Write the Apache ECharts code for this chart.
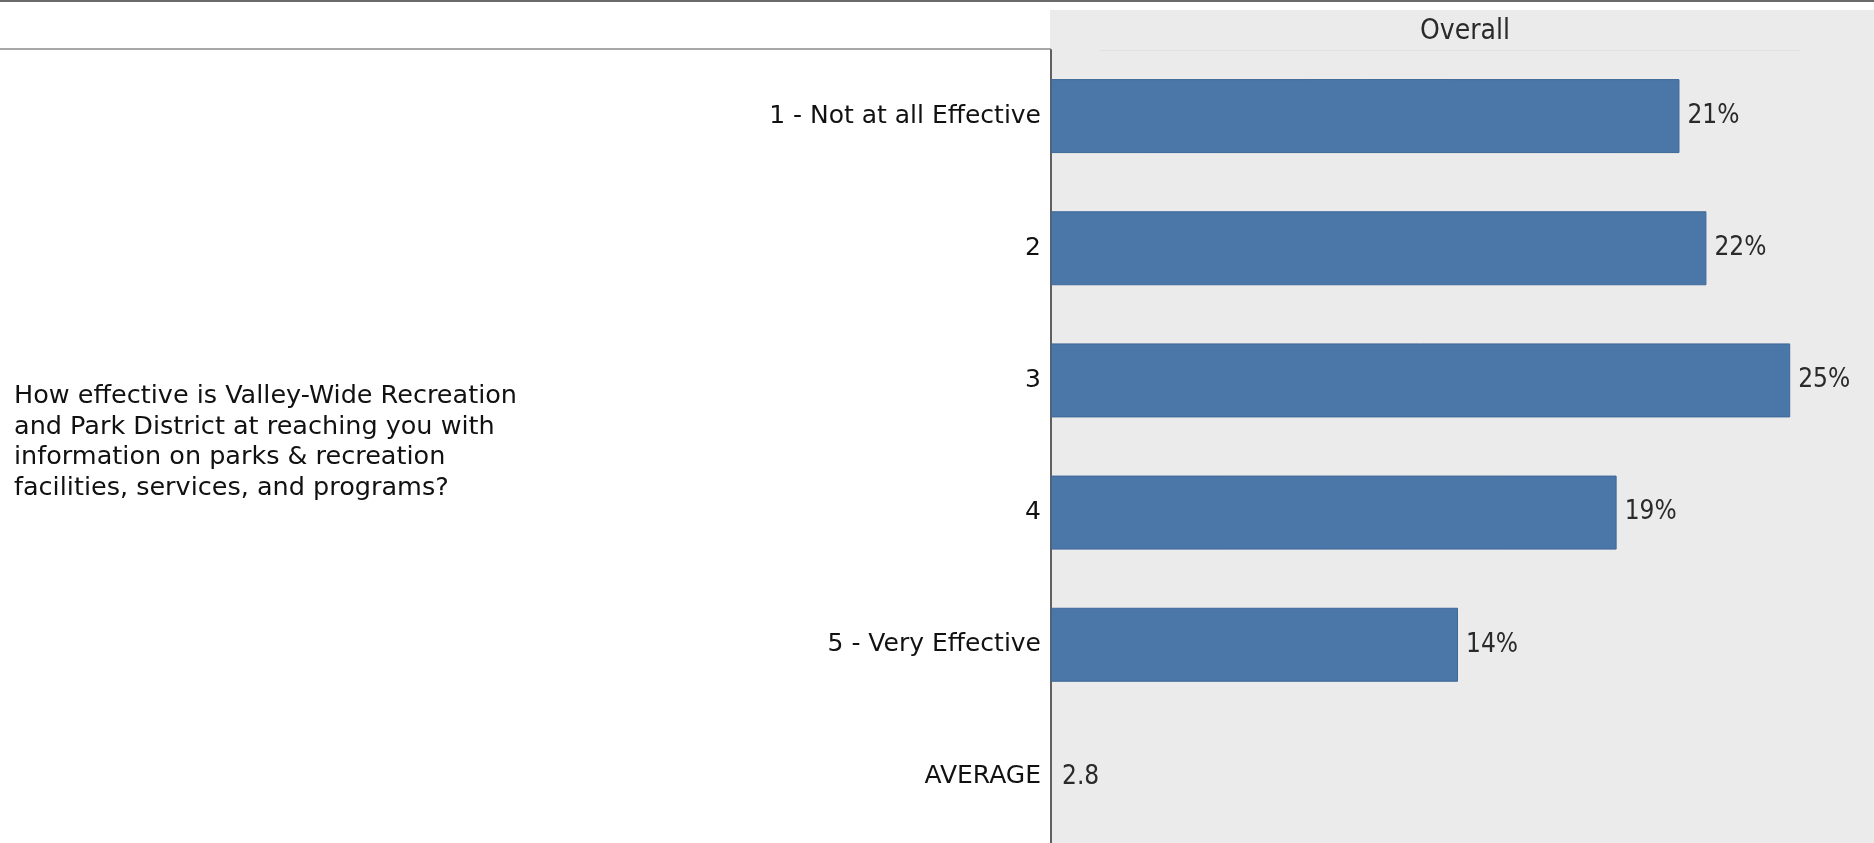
<!DOCTYPE html>
<html>
<head>
<meta charset="utf-8">
<style>
  html, body { margin: 0; padding: 0; background: #ffffff; }
  #chart { width: 1874px; height: 843px; }
</style>
<script src="https://cdn.jsdelivr.net/npm/echarts@6/dist/echarts.min.js"></script>
</head>
<body>
<div id="chart"></div>
<script>
// ---- Data ----
const categories = ['1 - Not at all Effective', '2', '3', '4', '5 - Very Effective', 'AVERAGE'];
const overallPercent = [21.0, 21.9, 24.7, 18.9, 13.6];
const averageScore = 2.8;
const columnTitle = 'Overall';
const questionText = 'How effective is Valley-Wide Recreation\nand Park District at reaching you with\ninformation on parks & recreation\nfacilities, services, and programs?';

const narrowFont = '"Liberation Sans Narrow", "DejaVu Sans Condensed", "Liberation Sans", sans-serif';

const chart = echarts.init(document.getElementById('chart'), null, { renderer: 'canvas' });

const option = {
  backgroundColor: '#ffffff',
  animation: false,
  graphic: [
    // grey panel behind the bars
    { type: 'rect', z: -10, shape: { x: 1050, y: 10, width: 824, height: 833 }, style: { fill: '#ebebeb' } },
    // dark line at very top
    { type: 'rect', z: -5, shape: { x: 0, y: 0, width: 1874, height: 2 }, style: { fill: '#6a6a6a' } },
    // left header rule
    { type: 'rect', z: -5, shape: { x: 0, y: 48, width: 1051, height: 2 }, style: { fill: '#a8a8a8' } },
    // faint rule under column title
    { type: 'rect', z: -5, shape: { x: 1100, y: 50, width: 700, height: 1 }, style: { fill: '#e0e0e0' } },
    {
      type: 'text', z: 5, x: 1465, y: 32,
      style: { text: columnTitle, textAlign: 'center', textVerticalAlign: 'middle',
               font: '28px ' + narrowFont, fill: '#2a2a2a' }
    },
    {
      type: 'text', z: 5, x: 14, y: 381,
      style: { text: questionText, textAlign: 'left', textVerticalAlign: 'top',
               font: '25.5px "DejaVu Sans", sans-serif', lineHeight: 30.7, fill: '#111111' }
    }
  ],
  grid: { left: 1051, right: 0, top: 50, height: 798, containLabel: false },
  xAxis: {
    type: 'value', min: 0, max: 27.5,
    show: false
  },
  yAxis: {
    type: 'category', data: categories, inverse: true,
    axisLine: { show: true, lineStyle: { color: '#606060', width: 2 } },
    axisTick: { show: false },
    splitLine: { show: false },
    axisLabel: {
      margin: 10, color: '#111111',
      fontFamily: '"DejaVu Sans", sans-serif', fontSize: 25
    }
  },
  series: [
    {
      type: 'bar',
      data: overallPercent,
      barWidth: 74,
      itemStyle: { color: '#4a76a8', borderColor: '#3f6898', borderWidth: 1 },
      label: {
        show: true, position: 'right', distance: 8,
        formatter: p => Math.round(p.value) + '%',
        fontFamily: narrowFont, fontSize: 26, color: '#2a2a2a'
      }
    },
    {
      type: 'scatter',
      data: [[0, 'AVERAGE']],
      symbolSize: 0,
      itemStyle: { opacity: 1 },
      label: {
        show: true, position: 'right', distance: 11,
        formatter: () => averageScore.toFixed(1),
        fontFamily: narrowFont, fontSize: 26, color: '#2a2a2a'
      }
    }
  ]
};
chart.setOption(option);
</script>
</body>
</html>
